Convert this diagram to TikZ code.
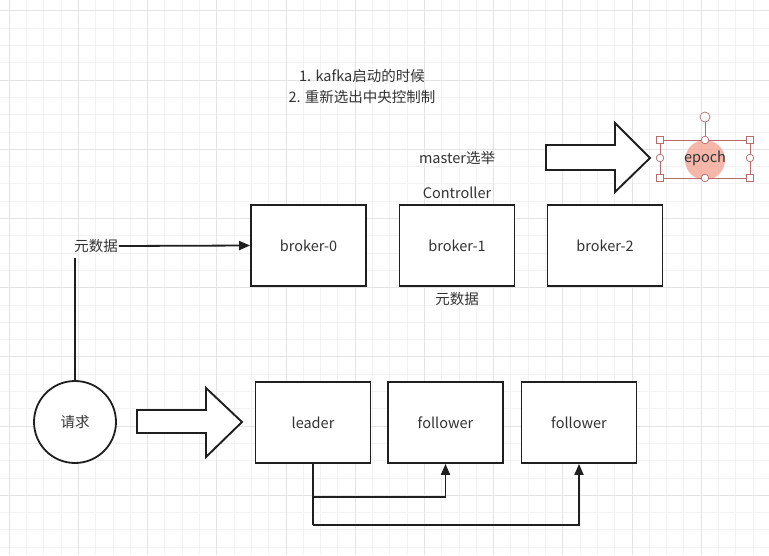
\documentclass[tikz,border=0pt]{standalone}
\usepackage{fontspec}
\setmainfont{Noto Sans CJK SC}
\usetikzlibrary{arrows.meta}
\definecolor{txt}{HTML}{333333}
\definecolor{ln}{HTML}{1F1F1F}
\definecolor{minorgrid}{HTML}{F2F2F2}
\definecolor{majorgrid}{HTML}{E4E4E4}
\definecolor{selc}{HTML}{B86B6B}
\definecolor{pinkc}{HTML}{F4A090}
\tikzset{
  box/.style={draw=ln, line width=1.8pt, fill=white, minimum width=115pt, minimum height=81pt, inner sep=0pt, font=\fontsize{14.5}{17}\selectfont, text=txt},
  lbl/.style={font=\fontsize{14.5}{21}\selectfont, text=txt, inner sep=1pt},
  circ/.style={draw=ln, line width=1.8pt, fill=white, circle, minimum size=82pt, inner sep=0pt, font=\fontsize{14.5}{17}\selectfont, text=txt},
  conn/.style={draw=ln, line width=1.8pt},
  arr/.style={conn, -{Triangle[length=11pt,width=9pt]}},
  blockarrow/.style={draw=ln, line width=1.9pt, fill=white, line join=miter},
  hnd/.style={draw=selc, line width=0.7pt, fill=white}
}
\begin{document}
\begin{tikzpicture}[x=1pt,y=-1pt]
\useasboundingbox (0,0) rectangle (769,555);
\fill[white] (0,0) rectangle (769,555);
% grid
\foreach \i in {0,...,44} {
  \pgfmathsetmacro{\gx}{9.1+17.3*\i}
  \draw[minorgrid, line width=0.8pt] (\gx,0) -- (\gx,555);
}
\foreach \i in {0,...,32} {
  \pgfmathsetmacro{\gy}{10.8+17.3*\i}
  \draw[minorgrid, line width=0.8pt] (0,\gy) -- (769,\gy);
}
\foreach \i in {0,...,11} {
  \pgfmathsetmacro{\gx}{9.1+69.2*\i}
  \draw[majorgrid, line width=0.8pt] (\gx,0) -- (\gx,555);
}
\foreach \i in {0,...,8} {
  \pgfmathsetmacro{\gy}{10.8+69.2*\i}
  \draw[majorgrid, line width=0.8pt] (0,\gy) -- (769,\gy);
}

% notes
\node[lbl, align=center] (note) at (362,86.5) {1. kafka启动的时候\\2. 重新选出中央控制制};
\node[lbl] (master) at (457,158) {master选举};
\node[lbl] (ctrl) at (457,193) {Controller};

% brokers
\node[box] (b0) at (308.5,245.5) {broker-0};
\node[box] (b1) at (457,245.5) {broker-1};
\node[box] (b2) at (605,245.5) {broker-2};
\node[lbl] (meta1) at (457,299) {元数据};

% left metadata
\node[lbl] (meta0) at (96,246) {元数据};
\draw[arr] (meta0.east) -- (b0.west);

% request circle
\node[circ] (req) at (75,422) {请求};
\draw[conn] (75,258) coordinate (mtop) -- (req.north);

% block arrow bottom
\draw[blockarrow] (137,410) -- (206,410) -- (206,388) -- (242,422) -- (206,457) -- (206,433) -- (137,433) -- cycle;

% block arrow top
\draw[blockarrow] (546,145) -- (615,145) -- (615,123) -- (650,158) -- (615,192) -- (615,170) -- (546,170) -- cycle;

% leader / followers
\node[box] (lead) at (313,422.5) {leader};
\node[box] (f1) at (445.5,422.5) {follower};
\node[box] (f2) at (579,422.5) {follower};
\coordinate (c1) at (313,497);
\coordinate (c2) at (313,525);
\draw[conn] (lead.south) -- (c2);
\draw[arr] (c1) -| (f1.south);
\draw[arr] (c2) -| (f2.south);

% epoch selected
\fill[pinkc, opacity=0.75] (705,160) circle (20);
\node[lbl] (epoch) at (705,158) {epoch};
\draw[selc, line width=0.7pt] (660,140) rectangle (750,178);
\draw[selc, line width=0.7pt] (705,122) -- (705,140);
\draw[hnd] (705,117) circle (5);
\foreach \hx/\hy in {705/140,705/178,660/158,750/158} {
  \draw[hnd] (\hx,\hy) circle (3.8);
}
\foreach \hx/\hy in {660/140,750/140,660/178,750/178} {
  \draw[hnd] (\hx-3.5,\hy-3.5) rectangle (\hx+3.5,\hy+3.5);
}
\end{tikzpicture}
\end{document}
